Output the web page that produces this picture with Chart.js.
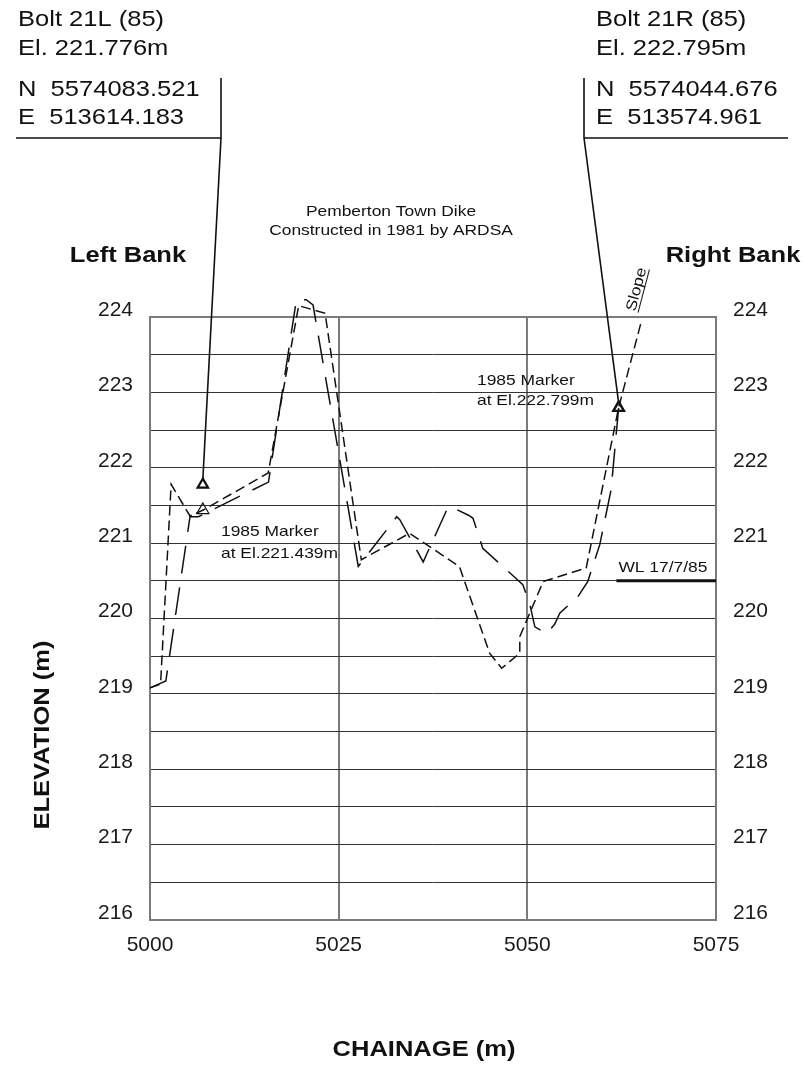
<!DOCTYPE html>
<html>
<head>
<meta charset="utf-8">
<script src="https://cdn.jsdelivr.net/npm/chart.js@4"></script>
<style>
  html, body { margin: 0; padding: 0; background: #fff; }
  #wrap { position: relative; width: 807px; height: 1065px; }
</style>
</head>
<body>
<div id="wrap"><canvas id="c"></canvas></div>
<script>
// Cross-section survey, Pemberton Town Dike
// 1985 survey profile (short dashes)
const chainage1985 = [5000, 5001.4, 5002.8, 5005.3, 5007.06, 5015.66, 5019.7, 5023.2, 5028.0, 5034.4, 5041.0, 5045.0, 5046.6, 5049.0, 5049.0, 5052.1, 5057.8, 5062.1, 5065.1];
const elev1985     = [219.08, 219.13, 221.78, 221.36, 221.439, 221.93, 224.15, 224.05, 220.78, 221.13, 220.69, 219.54, 219.34, 219.54, 219.76, 220.49, 220.67, 222.799, 223.94];

// Earlier profile (long dashes)
const chainageOld = [5000, 5002.1, 5005.3, 5006.4, 5015.7, 5019.4, 5020.7, 5021.6, 5027.6, 5032.7, 5033.1, 5036.2, 5036.6, 5039.5, 5039.9, 5042.2, 5042.8, 5044.1, 5049.4, 5050.3, 5051.0, 5052.5, 5053.6, 5054.3, 5056.7, 5058.0, 5059.6, 5061.1, 5062.1];
const elevOld     = [219.08, 219.17, 221.35, 221.35, 221.81, 224.23, 224.23, 224.16, 220.69, 221.35, 221.31, 220.75, 220.84, 221.48, 221.48, 221.37, 221.33, 220.93, 220.45, 220.20, 219.89, 219.80, 219.92, 220.07, 220.29, 220.49, 220.98, 221.71, 222.795];

// Survey bolts
const boltNames     = ['Bolt 21L (85)', 'Bolt 21R (85)'];
const boltChainage  = [5007.0, 5062.1];
const boltElev      = [221.776, 222.795];
const boltNorthing  = ['5574083.521', '5574044.676'];
const boltEasting   = ['513614.183', '513574.961'];

// 1985 markers
const markerChainage = [5007.0, 5062.1];
const markerElev     = [221.439, 222.799];

// Water level 17/7/85
const wlChainage = [5061.8, 5075];
const wlElev     = [220.5, 220.5];

// Axes
const xTicks = [5000, 5025, 5050, 5075];
const xTickLabels = ['5000', '5025', '5050', '5075'];
const yMin = 216, yMax = 224, yGridStep = 0.5;
const yTickLabels = ['216', '217', '218', '219', '220', '221', '222', '223', '224'];

const FONT = "'Liberation Sans', Arial, Helvetica, sans-serif";
const INK = '#111';
const FRAME = '#7b7b7b';
const WIDE = 1.16; // lettering is set slightly extended

function pts(xs, ys) { return xs.map((x, i) => ({ x: x, y: ys[i] })); }

function yGridTicks() {
  const t = [];
  for (let v = yMin; v <= yMax + 1e-9; v += yGridStep) t.push({ value: +v.toFixed(2) });
  return t;
}
function yLabel(v) {
  const i = yTickLabels.indexOf(String(v));
  return Number.isInteger(v) && i >= 0 ? yTickLabels[i] : '';
}

// extended lettering: draws str at (x, y), optionally rotated
function letter(ctx, str, x, y, font, align, rot) {
  ctx.save();
  ctx.translate(x, y);
  if (rot) ctx.rotate(rot);
  ctx.scale(WIDE, 1);
  ctx.font = font;
  ctx.textAlign = align || 'left';
  ctx.fillText(str, 0, 0);
  ctx.restore();
}

const annotations = {
  id: 'annotations',
  afterDraw(chart) {
    const ctx = chart.ctx;
    const xs = chart.scales.x, ys = chart.scales.y;
    ctx.save();
    ctx.fillStyle = INK;
    ctx.strokeStyle = INK;
    ctx.textBaseline = 'middle';

    // Bolt reference blocks
    const blocks = [
      { tx: 18, vx: 221, hx0: 16, hx1: 221 },
      { tx: 596, vx: 584, hx0: 584, hx1: 788 }
    ];
    const big = '22px ' + FONT;
    blocks.forEach((b, i) => {
      letter(ctx, boltNames[i], b.tx, 20, big);
      letter(ctx, 'El. ' + boltElev[i].toFixed(3) + 'm', b.tx, 49, big);
      letter(ctx, 'N  ' + boltNorthing[i], b.tx, 90, big);
      letter(ctx, 'E  ' + boltEasting[i], b.tx, 118, big);
      ctx.lineWidth = 1.6;
      ctx.beginPath();
      ctx.moveTo(b.vx, 78); ctx.lineTo(b.vx, 138);
      ctx.moveTo(b.hx0, 138); ctx.lineTo(b.hx1, 138);
      // leader down to the bolt
      const px = xs.getPixelForValue(boltChainage[i]);
      const py = ys.getPixelForValue(boltElev[i]);
      ctx.moveTo(b.vx, 138); ctx.lineTo(px, py - 5);
      ctx.stroke();
    });

    // Title
    const small = '15px ' + FONT;
    letter(ctx, 'Pemberton Town Dike', 391, 212, small, 'center');
    letter(ctx, 'Constructed in 1981 by ARDSA', 391, 231, small, 'center');

    // Banks
    const bold = 'bold 22px ' + FONT;
    letter(ctx, 'Left Bank', 128, 256, bold, 'center');
    letter(ctx, 'Right Bank', 733, 256, bold, 'center');

    // Marker notes
    letter(ctx, '1985 Marker', 221, 532, small);
    letter(ctx, 'at El.' + markerElev[0].toFixed(3) + 'm', 221, 554, small);
    letter(ctx, '1985 Marker', 477, 381, small);
    letter(ctx, 'at El.' + markerElev[1].toFixed(3) + 'm', 477, 401, small);

    // Water level note
    letter(ctx, 'WL 17/7/85', xs.getPixelForValue(wlChainage[0]) + 2, ys.getPixelForValue(wlElev[0]) - 13, small);

    // Slope note along the right bank
    ctx.save();
    ctx.translate(639, 313);
    ctx.rotate(-Math.atan2(86, 22.7));
    ctx.scale(WIDE, 1);
    ctx.font = small;
    ctx.textAlign = 'left';
    ctx.textBaseline = 'alphabetic';
    ctx.fillText('Slope', 0, -4);
    ctx.lineWidth = 1;
    ctx.beginPath(); ctx.moveTo(0, -1); ctx.lineTo(ctx.measureText('Slope').width, -1); ctx.stroke();
    ctx.restore();

    // Axis titles
    letter(ctx, 'CHAINAGE (m)', 424, 1050, bold, 'center');
    letter(ctx, 'ELEVATION (m)', 43, 735, bold, 'center', -Math.PI / 2);

    ctx.restore();
  }
};

const gridColor = (ctx) => {
  const v = ctx.tick && ctx.tick.value;
  return (v === yMin || v === yMax) ? FRAME : '#333';
};
const gridWidth = (ctx) => {
  const v = ctx.tick && ctx.tick.value;
  return (v === yMin || v === yMax) ? 2 : 1;
};

new Chart(document.getElementById('c'), {
  type: 'scatter',
  data: {
    datasets: [
      { label: 'Water level', data: pts(wlChainage, wlElev), showLine: true, borderColor: INK, borderWidth: 3, pointRadius: 0, clip: false },
      { label: '1985 profile', data: pts(chainage1985, elev1985), showLine: true, borderColor: INK, borderWidth: 1.5, borderDash: [10, 5], pointRadius: 0, clip: false },
      { label: 'Earlier profile', data: pts(chainageOld, elevOld), showLine: true, borderColor: INK, borderWidth: 1.5, borderDash: [28, 14], pointRadius: 0, clip: false },
      { label: 'Bolts', data: pts(boltChainage, boltElev), pointStyle: 'triangle', pointRadius: 6, borderWidth: 2.2, borderColor: INK, backgroundColor: 'rgba(255,255,255,0)', clip: false },
      { label: '1985 markers', data: pts(markerChainage, markerElev), pointStyle: 'triangle', pointRadius: 7, borderWidth: 1.2, borderColor: INK, backgroundColor: 'rgba(255,255,255,0)', clip: false }
    ]
  },
  options: {
    responsive: true,
    maintainAspectRatio: false,
    animation: false,
    layout: { padding: { top: 317, left: 0, right: 0, bottom: 0 } },
    plugins: { legend: { display: false }, tooltip: { enabled: false } },
    scales: {
      x: {
        type: 'linear', min: 5000, max: 5075,
        afterBuildTicks: (s) => { s.ticks = xTicks.map(v => ({ value: v })); },
        afterFit: (s) => { s.height = 145; },
        ticks: { callback: (v) => xTickLabels[xTicks.indexOf(v)], font: { family: FONT, size: 21 }, color: '#1a1a1a', padding: 13, maxRotation: 0 },
        grid: { color: FRAME, lineWidth: 2, drawTicks: false },
        border: { display: true, color: FRAME, width: 2 }
      },
      y: {
        type: 'linear', min: yMin, max: yMax, position: 'left',
        afterBuildTicks: (s) => { s.ticks = yGridTicks(); },
        afterFit: (s) => { s.width = 150; },
        ticks: { callback: yLabel, font: { family: FONT, size: 21 }, color: '#1a1a1a', padding: 17, labelOffset: -7, autoSkip: false },
        grid: { color: gridColor, lineWidth: gridWidth, drawTicks: false },
        border: { display: true, color: FRAME, width: 2 }
      },
      y2: {
        type: 'linear', min: yMin, max: yMax, position: 'right',
        afterBuildTicks: (s) => { s.ticks = yGridTicks(); },
        afterFit: (s) => { s.width = 91; },
        ticks: { callback: yLabel, font: { family: FONT, size: 21 }, color: '#1a1a1a', padding: 17, labelOffset: -7, autoSkip: false },
        grid: { display: false, drawTicks: false },
        border: { display: true, color: FRAME, width: 2 }
      }
    }
  },
  plugins: [annotations]
});
</script>
</body>
</html>
